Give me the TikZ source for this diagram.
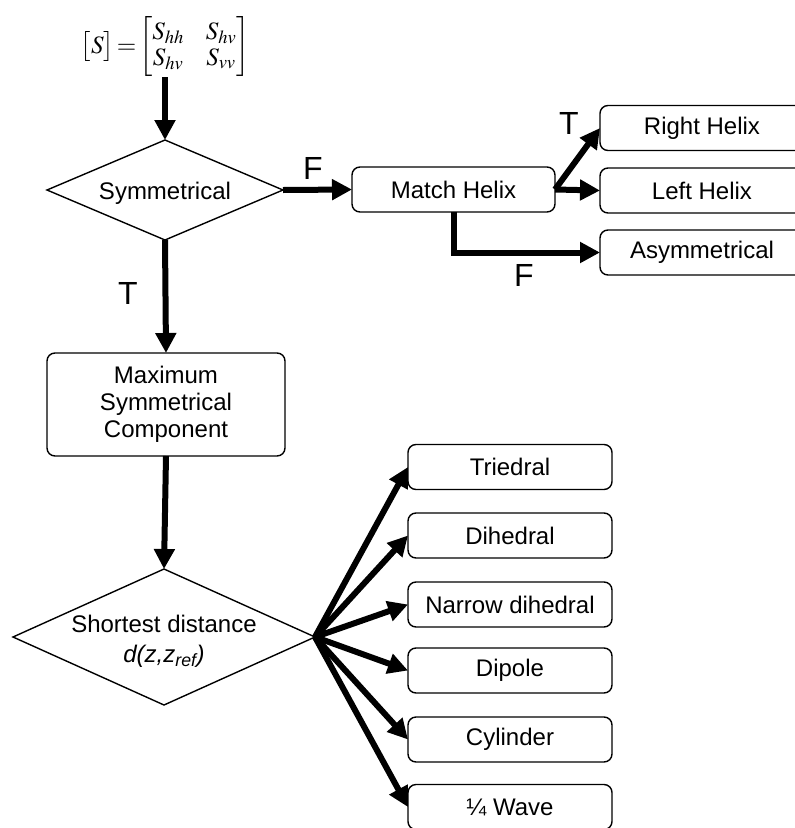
\documentclass[tikz,border=0pt]{standalone}
\usepackage{amsmath}
\usepackage{mathptmx}
\usepackage{fontspec}
\setmainfont{Liberation Sans}
\usetikzlibrary{shapes.geometric,arrows.meta}

\tikzset{
	resbox/.style={draw, rounded corners=8pt, line width=1.4pt, minimum height=45pt, inner sep=0pt, outer sep=0pt, align=center, font=\fontsize{24}{27}\selectfont},
	decide/.style={draw, diamond, line width=1.4pt, inner sep=0pt, outer sep=0pt},
	flow/.style={line width=6pt, -{Triangle[length=20pt,width=20pt]}},
	tflabel/.style={font=\fontsize{32}{32}\selectfont}
}

\begin{document}
\begin{tikzpicture}[x=1pt,y=-1pt]
		\useasboundingbox (0,0) rectangle (795,828);
		% matrix and first decision
		\node[inner sep=0pt] (smat) at (165,47) {\fontsize{25}{26}\selectfont\arraycolsep=11pt\delimitershortfall=12pt $\bigl[S\bigr]\!=\!\begin{bmatrix} S_{hh} & S_{hv}\\ S_{hv} & S_{vv}\end{bmatrix}$};
		\node[decide, minimum width=236pt, minimum height=100pt, label={[font=\fontsize{24}{27}\selectfont, yshift=-3pt]center:Symmetrical}] (sym) at (165,190) {};
		\node[resbox, minimum width=203pt] (mh) at (453.5,189.5) {Match Helix};
		\node[resbox, minimum width=204pt] (rh) at (702,128) {Right Helix};
		\node[resbox, minimum width=204pt] (lh) at (702,190.5) {Left Helix};
		\node[resbox, minimum width=204pt] (asym) at (702,252.5) {Asymmetrical};
		\node[resbox, minimum width=238pt, minimum height=103pt] (maxsym) at (166,404.5) {Maximum\\Symmetrical\\Component};
		\node[decide, minimum width=302pt, minimum height=136pt, label={[font=\fontsize{24}{30}\selectfont, align=center, yshift=-4pt]center:Shortest distance\\\textit{d(z,z\textsubscript{ref})}}] (sd) at (164,637) {};
		% targets
		\node[resbox, minimum width=204pt] (tri) at (510,467) {Triedral};
		\node[resbox, minimum width=204pt] (dih) at (510,535.5) {Dihedral};
		\node[resbox, minimum width=204pt] (ndih) at (510,604.5) {Narrow dihedral};
		\node[resbox, minimum width=204pt] (dip) at (510,670.5) {Dipole};
		\node[resbox, minimum width=204pt] (cyl) at (510,739.5) {Cylinder};
		\node[resbox, minimum width=204pt] (qw) at (510,807) {¼ Wave};
		% T / F
		\node[tflabel] (fsym) at (313,168) {F};
		\node[tflabel] (tsym) at (128,293) {T};
		\node[tflabel] (tmh) at (569,123) {T};
		\node[tflabel] (fmh) at (524,275) {F};
		% arrows
		\draw[flow] (smat.south) -- (sym.north);
		\draw[flow] (sym.east) -- (mh.west);
		\draw[flow] (mh.east) -- (rh.west);
		\draw[flow] (mh.east) -- (lh.west);
		\draw[flow] (mh.south) |- (asym.west);
		\draw[flow] (sym.south) -- (maxsym.north);
		\draw[flow] (maxsym.south) -- (sd.north);
		\draw[flow] (sd.east) -- (tri.west);
		\draw[flow] (sd.east) -- (dih.west);
		\draw[flow] (sd.east) -- (ndih.west);
		\draw[flow] (sd.east) -- (dip.west);
		\draw[flow] (sd.east) -- (cyl.west);
		\draw[flow] (sd.east) -- (qw.west);
	\end{tikzpicture}
\end{document}
